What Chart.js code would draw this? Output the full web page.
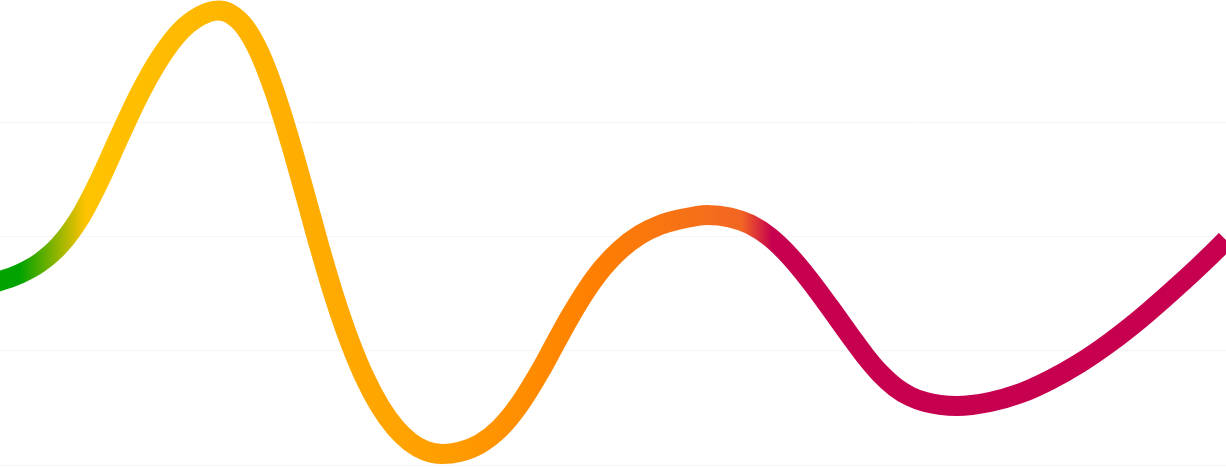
<!DOCTYPE html>
<html>
<head>
<meta charset="utf-8">
<script src="https://cdn.jsdelivr.net/npm/chart.js@4"></script>
<style>
    html, body { margin: 0; padding: 0; background: #ffffff; }
    #wrap { width: 1226px; height: 468px; position: relative; }
</style>
</head>
<body>
<div id="wrap"><canvas id="grafico"></canvas></div>
<script>
// values: x as % of the visible width, y on a 0-100 scale
const posX = [-3.26, 0, 1.63, 3.26, 4.89, 6.53, 8.16, 9.79, 11.42, 13.05, 14.68, 16.31, 17.78,
    18.76, 19.98, 21.21, 22.43, 23.65, 24.88, 26.10, 27.32, 28.55, 29.77, 31.00, 32.22, 33.44, 34.67, 36.05,
    37.52, 39.15, 40.78, 42.41, 44.05, 45.27, 46.49, 47.88, 49.18, 50.57, 52.20, 53.83, 55.46, 56.69, 57.67,
    59.54, 61.17, 62.81, 64.44, 66.07, 67.70, 69.33, 70.55, 71.78, 73.00, 74.23, 75.45, 76.67, 78.06,
    80.75, 83.20, 85.64, 88.09, 90.54, 92.99, 95.43, 97.88, 100, 102.77];
const valores = [38.29, 40.26, 41.86, 44.31, 48.16, 54.16, 62.52, 72.14, 81.36, 89.06, 94.84, 98.25, 99.45,
    98.77, 95.78, 89.93, 81.42, 70.92, 59.23, 47.37, 36.37, 26.85, 19.02, 12.82, 8.23, 5.08, 3.15, 2.41,
    2.89, 4.64, 8.03, 13.39, 20.50, 26.50, 32.41, 38.45, 43.17, 47.08, 50.36, 52.51, 53.77, 54.42, 54.70,
    54.18, 52.67, 49.82, 45.62, 40.35, 34.46, 28.36, 23.94, 20.07, 17.07, 15.01, 13.79, 13.15, 12.91,
    13.79, 15.65, 18.60, 22.32, 26.81, 31.95, 37.64, 43.65, 49.23, 57.11];
const ticksY = [0, 25, 50, 75, 100];

// colour stops of the horizontal gradient
const paradas = [0.016, 0.07, 0.18, 0.35, 0.48, 0.58, 0.605, 0.63, 1];
const colores = ['#00a300', '#ffc300', '#ffb600', '#ffa000', '#ff8000', '#f56d1c', '#f26522', '#c6004f', '#c6004f'];

function gradienteLinea(context) {
    const chart = context.chart;
    const area = chart.chartArea;
    if (!area) return colores[0];
    const g = chart.ctx.createLinearGradient(area.left, 0, area.right, 0);
    paradas.forEach((p, i) => g.addColorStop(p, colores[i]));
    return g;
}

document.addEventListener('DOMContentLoaded', () => {
    const ctx = document.getElementById('grafico').getContext('2d');
    new Chart(ctx, {
        type: 'line',
        data: {
            datasets: [{
                data: posX.map((x, i) => ({ x, y: valores[i] })),
                borderColor: gradienteLinea,
                borderWidth: 20,
                pointRadius: 0,
                pointHoverRadius: 0,
                cubicInterpolationMode: 'monotone',
                clip: { left: 0, right: 0, top: 20, bottom: 20 },
                fill: false
            }]
        },
        options: {
            responsive: true, maintainAspectRatio: false,
            animation: false,
            layout: { padding: { top: 8, bottom: 3, left: 0, right: 0 } },
            plugins: { legend: { display: false }, tooltip: { enabled: false } },
            scales: {
                x: { type: 'linear', display: false, min: 0, max: 100 },
                y: {
                    min: ticksY[0], max: ticksY[ticksY.length - 1],
                    afterBuildTicks: (axis) => { axis.ticks = ticksY.map(v => ({ value: v })); },
                    ticks: { display: false },
                    border: { display: false },
                    grid: {
                        drawTicks: false,
                        lineWidth: 1,
                        color: (c) => c.tick && c.tick.value === ticksY[ticksY.length - 1] ? 'rgba(0,0,0,0)' : '#f5f5f5'
                    }
                }
            }
        }
    });
});
</script>
</body>
</html>
